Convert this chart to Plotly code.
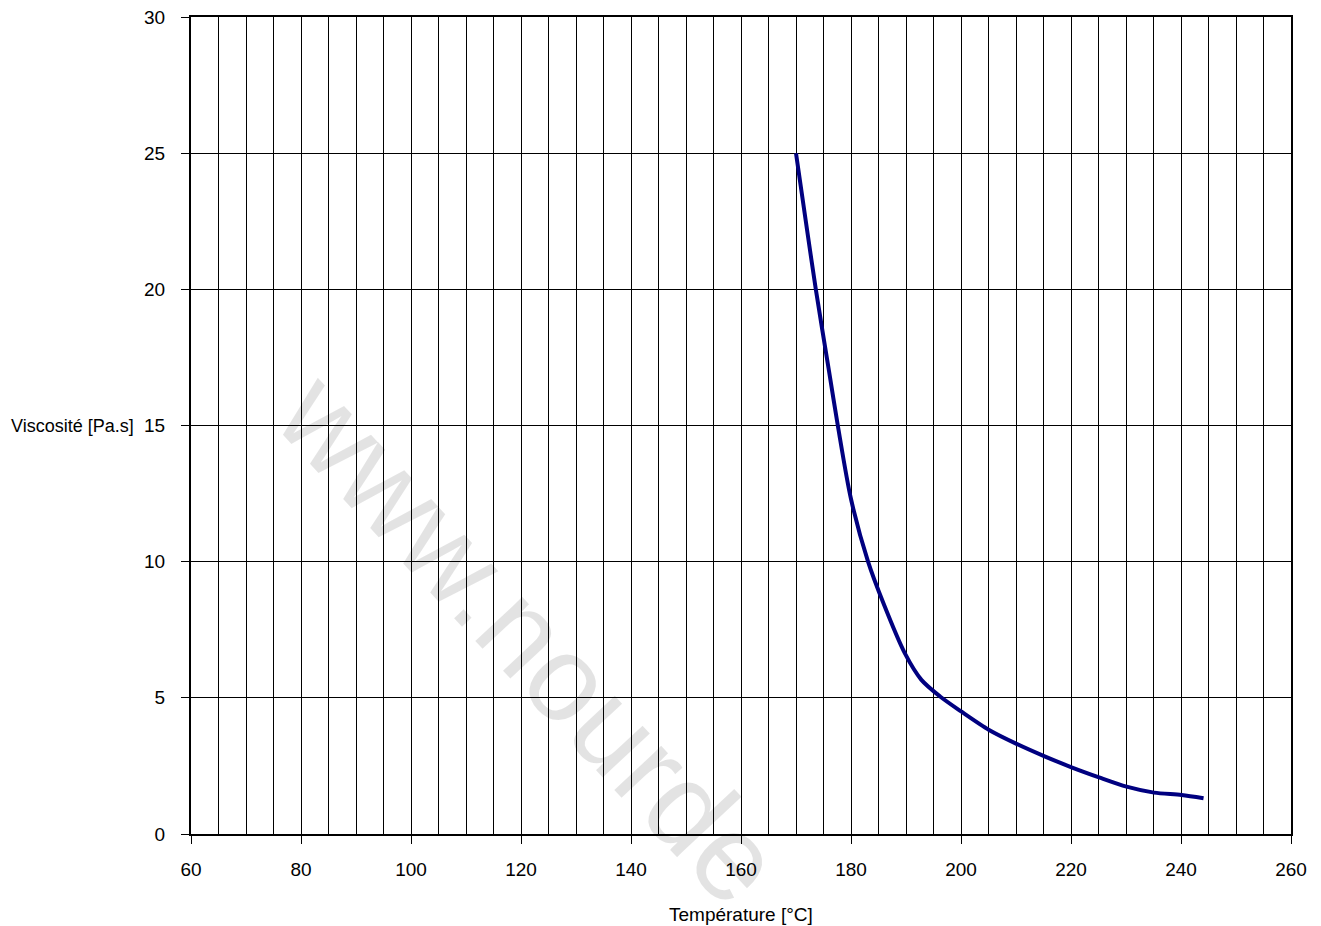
import plotly.graph_objects as go

# Data
temperature = [170, 172, 173.6, 176, 177.6, 180, 183.1, 185.9, 189.8, 192.8, 196.2,
               200.1, 205.1, 210.1, 215.1, 220.1, 225.1, 230.1, 235.1, 240.1, 244.1]
viscosity = [25.0, 22.2, 20.0, 17.0, 15.0, 12.3, 10.0, 8.47, 6.63, 5.66, 5.05,
             4.49, 3.82, 3.31, 2.86, 2.45, 2.08, 1.74, 1.52, 1.43, 1.31]

x_ticks = [60, 80, 100, 120, 140, 160, 180, 200, 220, 240, 260]
y_ticks = [0, 5, 10, 15, 20, 25, 30]

x_title = "Température [°C]"
y_title = "Viscosité [Pa.s]"
watermark = "www.nourde"

FONT = "Liberation Sans Narrow, Arial Narrow, Liberation Sans, Arial, sans-serif"
FS = 19

# page body has an 8px margin; figure is sized so the plot area lands at
# x 191..1291, y 17..834 of the window
W, H = 1313, 918
ML, MR, MT, MB = 183, 30, 9, 92
PW, PH = W - ML - MR, H - MT - MB

fig = go.Figure()
fig.add_trace(go.Scatter(
    x=temperature, y=viscosity, mode="lines",
    line=dict(color="#000080", width=4, shape="spline", smoothing=0.8),
    showlegend=False, hoverinfo="skip",
))

axis_common = dict(
    showline=True, linecolor="black", linewidth=2, mirror=True,
    ticks="outside", ticklen=8, tickcolor="black", tickwidth=1,
    showgrid=True, gridcolor="black", gridwidth=1, zeroline=False,
    automargin=False, ticklabeloverflow="allow",
    tickfont=dict(family=FONT, size=FS, color="black"),
)

fig.update_xaxes(range=[60, 260], tickvals=x_ticks, ticklabelstandoff=9,
                 minor=dict(dtick=5, tick0=60, showgrid=True, gridcolor="black", gridwidth=1, ticks=""),
                 **axis_common)
fig.update_yaxes(range=[0, 30], tickvals=y_ticks, ticklabelstandoff=12, **axis_common)

# watermark centre, in window pixels
wm_x, wm_y = 530, 638

fig.update_layout(
    width=W, height=H,
    margin=dict(l=ML, r=MR, t=MT, b=MB),
    paper_bgcolor="white", plot_bgcolor="white",
    font=dict(family=FONT, size=FS, color="black"),
    annotations=[
        dict(text=x_title, xref="paper", yref="paper", x=0.5, y=0,
             yshift=-80, xanchor="center", yanchor="middle", showarrow=False,
             font=dict(family=FONT, size=FS, color="black")),
        dict(text=y_title, xref="paper", yref="paper", x=0, y=0.5,
             xshift=-55, xanchor="right", yanchor="middle", showarrow=False,
             font=dict(family=FONT, size=18, color="black")),
        dict(text=watermark, xref="paper", yref="paper",
             x=(wm_x - 191) / PW, y=(834 - wm_y) / PH,
             xanchor="center", yanchor="middle", showarrow=False, textangle=47,
             font=dict(family="Liberation Sans, Arial, sans-serif", size=122,
                       color="rgba(0,0,0,0.11)")),
    ],
)

fig.write_html("out.html")
